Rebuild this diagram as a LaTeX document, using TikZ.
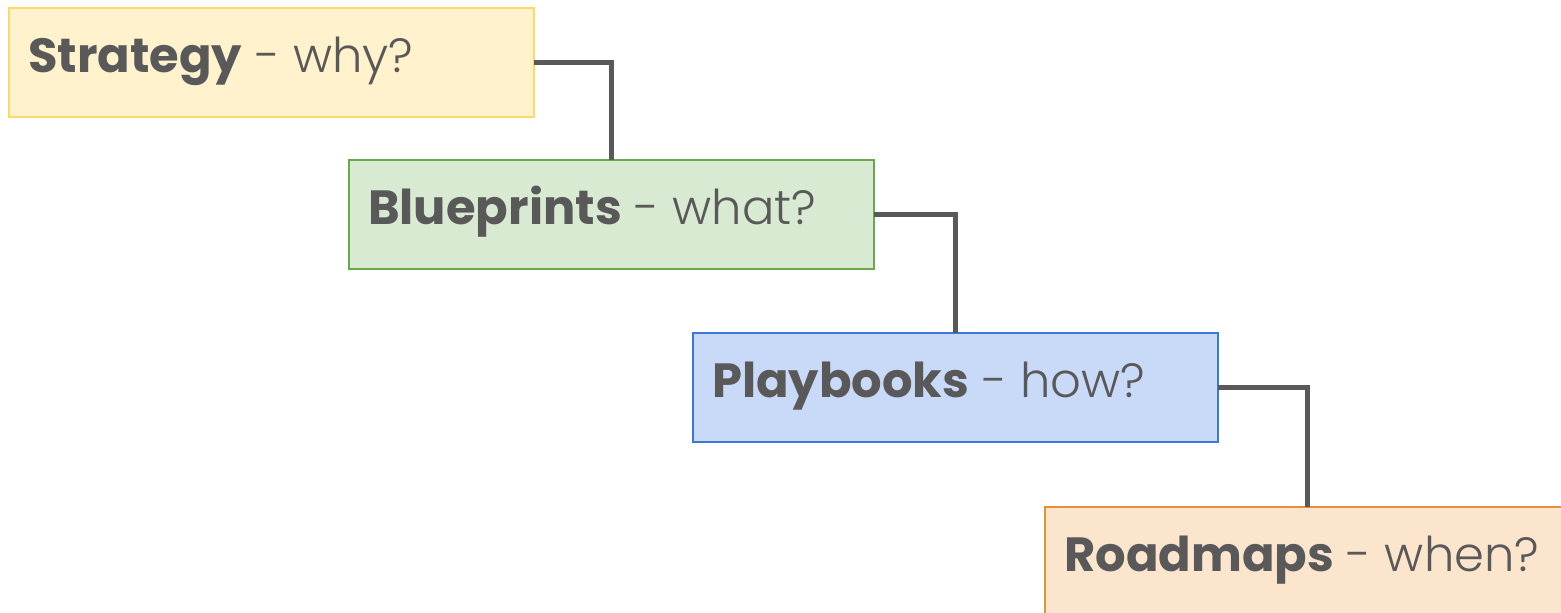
\documentclass[tikz,border=0pt]{standalone}
\usepackage{fontspec}
\setmainfont{Poppins}
\newfontfamily\lightfont{Poppins Light}
\begin{document}
\begin{tikzpicture}[x=1pt,y=-1pt,
  card/.style={draw, line width=1.5pt, rectangle, anchor=north west,
    minimum width=525pt, minimum height=109pt, inner sep=0pt, outer sep=0pt},
  cardtext/.style={anchor=base west, inner sep=0pt, text=ink,
    font=\fontsize{48}{58}\selectfont},
  link/.style={draw=ink, line width=4.5pt}
]
\definecolor{ink}{HTML}{595959}
\definecolor{yfill}{HTML}{FFF2CC}\definecolor{yline}{HTML}{FFD966}
\definecolor{gfill}{HTML}{D9EAD3}\definecolor{gline}{HTML}{6AA84F}
\definecolor{bfill}{HTML}{C9DAF8}\definecolor{bline}{HTML}{3C78D8}
\definecolor{ofill}{HTML}{FCE5CD}\definecolor{oline}{HTML}{E69138}
\useasboundingbox (0,0) rectangle (1561,613);

\node[card, fill=yfill, draw=yline] (strategy) at (9,8) {};
\node[card, fill=gfill, draw=gline] (blueprints) at (349,160) {};
\node[card, fill=bfill, draw=bline] (playbooks) at (693,333) {};
\node[card, fill=ofill, draw=oline] (roadmaps) at (1045,507) {};

\node[cardtext] (t1) at ([shift={(19,64)}]strategy.north west) {\textbf{Strategy} {\lightfont - why?}};
\node[cardtext] (t2) at ([shift={(19,64)}]blueprints.north west) {\textbf{Blueprints} {\lightfont - what?}};
\node[cardtext] (t3) at ([shift={(19,64)}]playbooks.north west) {\textbf{Playbooks} {\lightfont - how?}};
\node[cardtext] (t4) at ([shift={(19,64)}]roadmaps.north west) {\textbf{Roadmaps} {\lightfont - when?}};

\draw[link] (strategy.east) -| (blueprints.north);
\draw[link] (blueprints.east) -| (playbooks.north);
\draw[link] (playbooks.east) -| (roadmaps.north);
\end{tikzpicture}
\end{document}
